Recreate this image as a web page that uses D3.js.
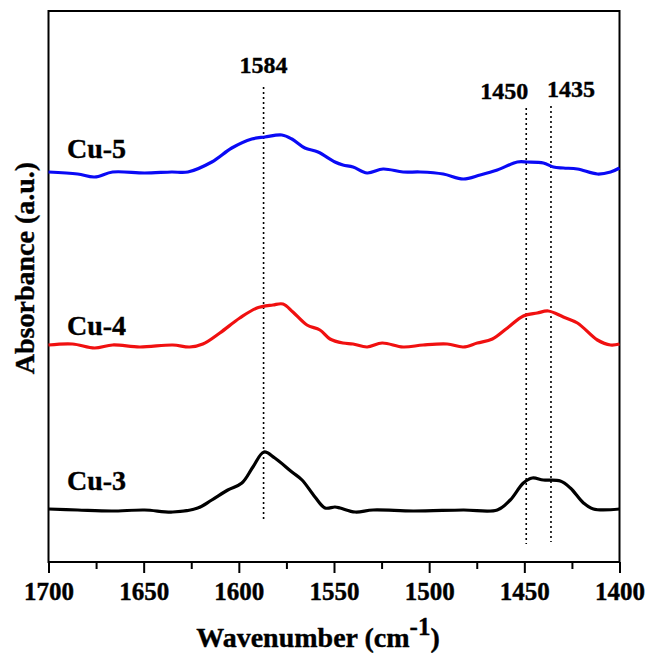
<!DOCTYPE html>
<html><head><meta charset="utf-8">
<script src="https://cdn.jsdelivr.net/npm/d3@7"></script>
<style>
body{margin:0;background:#fff;}
text{font-family:"Liberation Serif","Times New Roman",serif;font-weight:bold;fill:#000;}
</style>
</head><body>
<svg id="chart" width="650" height="655"></svg>
<script>
// Wavenumber (cm-1) and offset absorbance (a.u.)
const cu5Wave = [1700,1684.7,1675.8,1666.3,1649.5,1635.3,1626.8,1614.2,1603.7,1593.2,1586.3,1577.4,1572.1,1565.3,1558.4,1549.5,1545.3,1540,1532.6,1524.2,1513.7,1504.7,1492.6,1482.1,1473.2,1464.2,1453.7,1448.4,1440,1434.7,1429.5,1422.1,1411.6,1404.7,1400];
const cu5Abs  = [3.90,3.88,3.85,3.90,3.89,3.90,3.90,4.00,4.14,4.23,4.25,4.27,4.23,4.14,4.10,4.00,3.97,3.95,3.89,3.93,3.90,3.90,3.88,3.83,3.87,3.92,4.00,4.00,3.99,3.95,3.94,3.93,3.88,3.90,3.94];

const cu4Wave = [1700,1687.4,1675.8,1666.3,1652.1,1634.7,1625.8,1618.9,1610,1599.5,1590.5,1582.1,1576.8,1571.6,1564.2,1557.4,1552.1,1545.3,1540,1532.6,1524.7,1513.7,1503.2,1490.5,1482.1,1474.7,1466.8,1458.9,1450.5,1443.2,1437.4,1429.5,1422.1,1411.6,1404.7,1400];
const cu4Abs  = [2.17,2.18,2.14,2.17,2.15,2.17,2.15,2.18,2.29,2.44,2.54,2.57,2.58,2.50,2.37,2.32,2.23,2.19,2.18,2.15,2.19,2.15,2.17,2.18,2.15,2.19,2.23,2.34,2.46,2.49,2.51,2.45,2.39,2.22,2.17,2.18];

const cu3Wave = [1700,1684.7,1666.8,1649.5,1634.7,1621.6,1614.2,1605.8,1598.4,1592.6,1586.8,1581.1,1572.1,1566.8,1560,1554.7,1549.5,1546.8,1538.9,1529.5,1508.4,1482.1,1464.2,1457.4,1450.5,1445.8,1440,1431.1,1425.8,1418.9,1413.7,1400];
const cu3Abs  = [0.53,0.52,0.51,0.52,0.50,0.54,0.62,0.72,0.79,0.95,1.10,1.04,0.90,0.82,0.65,0.54,0.55,0.54,0.50,0.52,0.51,0.52,0.52,0.62,0.79,0.84,0.82,0.81,0.74,0.59,0.53,0.53];

const seriesNames = ["Cu-5","Cu-4","Cu-3"];
const seriesColors = ["#0a0af5","#f01010","#000000"];
const seriesLabelAbs = [4.04, 2.27, 0.72];

const peakLines = [1587, 1449, 1436];
const peakLabels = ["1584", "1450", "1435"];
const peakLabelAbs = [4.89, 4.63, 4.65];
const peakLineTop = [4.75, 4.54, 4.56];
const peakLineBottom = [0.40, 0.18, 0.20];

const xMajorTicks = [1700,1650,1600,1550,1500,1450,1400];
const xMinorTicks = [1675,1625,1575,1525,1475,1425];

const svg = d3.select("#chart");
const L = 48.5, R = 619.5, T = 11, B = 562;
const x = d3.scaleLinear().domain([1700, 1400]).range([L, R]);
const y = d3.scaleLinear().domain([0, 5.51]).range([B, T]);

// frame
svg.append("rect").attr("x", L).attr("y", T).attr("width", R - L).attr("height", B - T)
  .attr("fill", "none").attr("stroke", "#000").attr("stroke-width", 2);

// bottom axis: major ticks
const gx = svg.append("g").attr("transform", `translate(0,${B})`);
gx.call(d3.axisBottom(x).tickValues(xMajorTicks).tickFormat(d3.format("d")).tickSize(11).tickPadding(9))
  .call(g => g.select(".domain").remove());
gx.selectAll(".tick line").attr("stroke-width", 2);
gx.selectAll(".tick text").attr("font-size", 25).attr("font-family", "Liberation Serif").attr("font-weight", "bold")
  .attr("fill", "#000").attr("stroke", "#000").attr("stroke-width", 0.4);
const gm = svg.append("g").attr("transform", `translate(0,${B})`);
gm.call(d3.axisBottom(x).tickValues(xMinorTicks).tickFormat("").tickSize(7))
  .call(g => g.select(".domain").remove());
gm.selectAll(".tick line").attr("stroke-width", 2);

// axis titles
const xt = svg.append("text").attr("x", 318).attr("y", 647).attr("text-anchor", "middle")
  .attr("font-size", 28).attr("stroke", "#000").attr("stroke-width", 0.4);
xt.append("tspan").text("Wavenumber (cm");
xt.append("tspan").attr("dy", -12).attr("font-size", 25).text("-1");
xt.append("tspan").attr("dy", 12).text(")");

svg.append("text").attr("transform", "translate(34,268) rotate(-90)")
  .attr("text-anchor", "middle").attr("font-size", 28).attr("stroke", "#000").attr("stroke-width", 0.4)
  .text("Absorbance (a.u.)");

// dotted peak lines
const labelShift = [0, -22, 20];
peakLines.forEach((w, i) => {
  svg.append("line").attr("x1", x(w)).attr("x2", x(w))
    .attr("y1", y(peakLineTop[i])).attr("y2", y(peakLineBottom[i]))
    .attr("stroke", "#000").attr("stroke-width", 1.6).attr("stroke-dasharray", "2,3");
  svg.append("text").attr("x", x(w) + labelShift[i])
    .attr("y", y(peakLabelAbs[i])).attr("text-anchor", "middle").attr("font-size", 24)
    .attr("stroke", "#000").attr("stroke-width", 0.4).text(peakLabels[i]);
});

// spectra
const line = d3.line().x(d => x(d[0])).y(d => y(d[1])).curve(d3.curveCatmullRom.alpha(0.5));
const waves = [cu5Wave, cu4Wave, cu3Wave];
const absv = [cu5Abs, cu4Abs, cu3Abs];
waves.forEach((w, i) => {
  const pts = w.map((v, j) => [v, absv[i][j]]);
  svg.append("path").datum(pts).attr("d", line).attr("fill", "none")
    .attr("stroke", seriesColors[i]).attr("stroke-width", 3.2).attr("stroke-linejoin", "round");
  svg.append("text").attr("x", 67).attr("y", y(seriesLabelAbs[i])).attr("font-size", 28)
    .attr("stroke", "#000").attr("stroke-width", 0.4).text(seriesNames[i]);
});
</script>
</body></html>
